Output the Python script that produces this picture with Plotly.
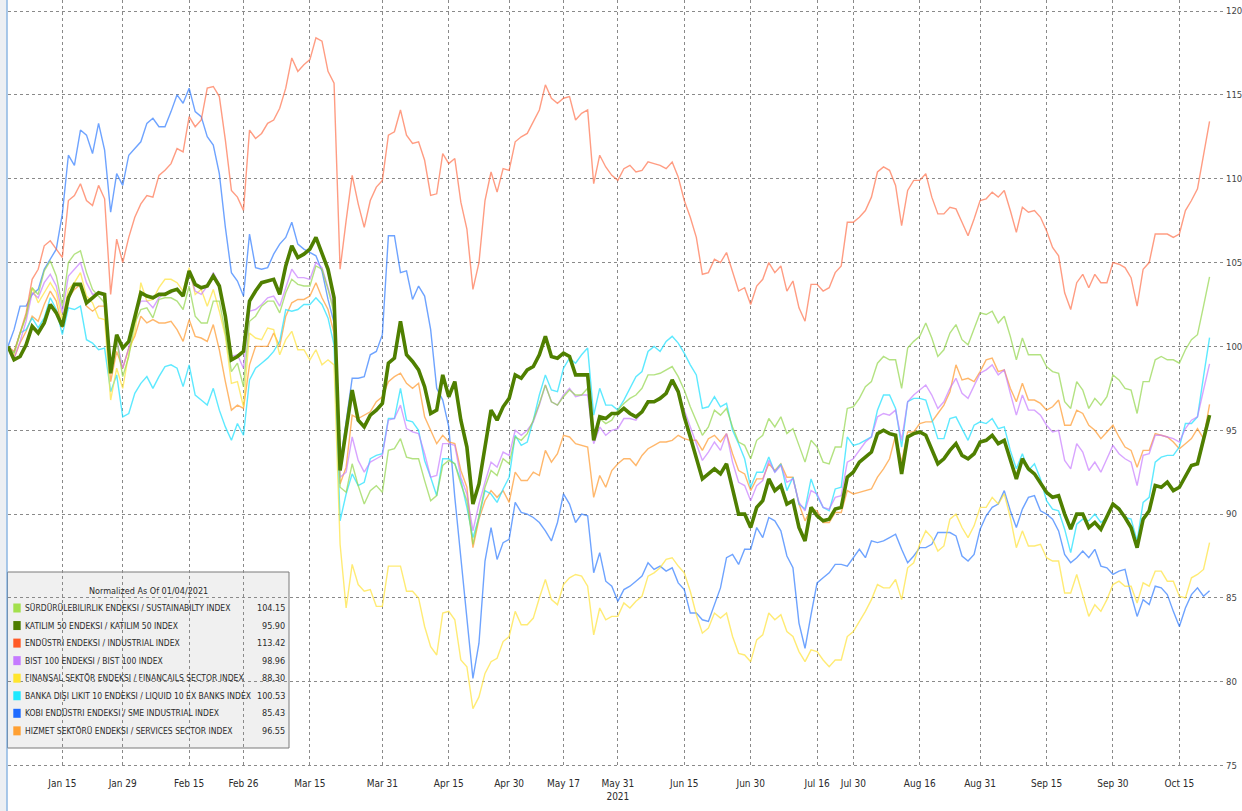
import plotly.graph_objects as go
import pandas as pd

# ---------------- data ----------------
holidays = ["2021-04-23", "2021-05-13", "2021-05-14", "2021-05-19", "2021-07-15",
            "2021-07-20", "2021-07-21", "2021-07-22", "2021-07-23", "2021-08-30"]
dates = [d.strftime("%Y-%m-%d") for d in pd.bdate_range("2021-01-04", "2021-10-22")
         if d.strftime("%Y-%m-%d") not in holidays]

tick_dates = ["2021-01-15", "2021-01-29", "2021-02-15", "2021-02-26", "2021-03-15", "2021-03-31",
              "2021-04-15", "2021-04-30", "2021-05-17", "2021-05-31", "2021-06-15", "2021-06-30",
              "2021-07-16", "2021-07-30", "2021-08-16", "2021-08-31", "2021-09-15", "2021-09-30",
              "2021-10-15"]
tick_labels = ["Jan 15", "Jan 29", "Feb 15", "Feb 26", "Mar 15", "Mar 31", "Apr 15", "Apr 30",
               "May 17", "May 31<br>2021", "Jun 15", "Jun 30", "Jul 16", "Jul 30", "Aug 16",
               "Aug 31", "Sep 15", "Sep 30", "Oct 15"]
y_ticks = [75, 80, 85, 90, 95, 100, 105, 110, 115, 120]

sustainability = [
    100.0, 99.6, 100.8, 101.8, 103.5, 103.1, 104.5, 105.1, 104.2, 102.4,
    105.0, 105.5, 105.7, 104.4, 103.4, 103.0, 102.6, 98.4, 100.4, 98.2,
    99.4, 101.4, 102.2, 102.3, 101.7, 102.8, 102.9, 102.9, 102.7, 102.2,
    103.6, 101.8, 101.4, 101.4, 102.7, 102.7, 100.8, 98.5, 99.0, 97.6,
    101.5, 101.8, 102.4, 102.7, 102.7, 102.0, 103.2, 104.0, 103.7, 103.6,
    103.6, 104.8, 104.6, 103.4, 102.0, 91.6, 91.3, 93.0, 91.7, 90.6,
    91.4, 91.7, 91.3, 93.8, 93.9, 94.5, 93.4, 93.3, 93.3, 92.0,
    90.8, 91.1, 92.9, 93.2, 93.0, 91.8, 90.8, 88.2, 89.8, 91.6,
    92.6, 92.3, 93.3, 93.0, 94.6, 94.4, 94.8, 95.6, 96.6, 97.7,
    96.7, 96.5, 97.0, 97.4, 97.1, 97.1, 97.5, 94.6, 95.7, 95.4,
    95.6, 96.2, 96.6, 96.9, 97.1, 97.5, 98.3, 98.3, 98.4, 98.6,
    98.8, 98.2, 97.4, 96.4, 95.6, 94.7, 95.2, 96.2, 95.9, 96.3,
    95.2, 94.3, 94.1, 93.3, 94.4, 94.7, 95.7, 95.2, 95.8, 94.8,
    95.1, 94.1, 93.1, 94.4, 94.0, 93.1, 93.0, 94.0, 94.0, 96.3,
    96.4, 96.9, 97.6, 97.9, 99.0, 99.4, 99.2, 99.2, 97.5, 99.9,
    100.3, 100.6, 101.4, 100.5, 99.4, 99.8, 100.8, 101.3, 100.4, 100.1,
    101.0, 102.0, 101.9, 102.1, 101.4, 101.8, 100.6, 99.2, 100.5, 99.5,
    99.5, 99.5, 98.8, 98.5, 98.4, 96.7, 96.3, 97.9, 97.4, 96.3,
    96.9, 96.5, 97.0, 98.3, 98.0, 97.5, 97.4, 96.0, 97.9, 97.9,
    99.2, 99.4, 99.2, 99.2, 99.0, 99.8, 100.4, 100.7, 102.4, 104.15]

katilim50 = [
    100.0, 99.2, 99.4, 100.1, 101.2, 100.8, 101.4, 102.5, 102.0, 101.2,
    102.9, 103.7, 103.7, 102.6, 102.9, 103.2, 103.1, 98.4, 100.7, 99.9,
    100.3, 101.8, 103.2, 103.0, 102.9, 103.1, 103.1, 103.3, 103.4, 103.0,
    104.5, 103.7, 103.5, 103.6, 104.2, 103.6, 101.8, 99.2, 99.4, 99.7,
    102.7, 103.3, 103.8, 103.9, 104.0, 103.1, 104.8, 106.0, 105.3, 105.5,
    105.8, 106.5, 105.5, 104.6, 102.9, 92.6, 95.0, 97.4, 95.6, 95.2,
    95.9, 96.2, 96.6, 99.0, 99.3, 101.5, 99.5, 99.1, 98.6, 97.6,
    96.0, 96.2, 98.3, 97.0, 97.9, 95.6, 94.0, 90.6, 91.8, 94.0,
    96.2, 95.6, 96.4, 96.9, 98.3, 98.1, 98.6, 98.8, 99.5, 100.6,
    99.4, 99.3, 99.6, 99.4, 98.3, 98.3, 98.3, 94.4, 95.8, 95.7,
    96.0, 96.0, 96.3, 96.0, 95.8, 96.1, 96.7, 96.7, 96.9, 97.2,
    98.0, 97.3, 95.8, 94.6, 93.4, 92.1, 92.4, 92.7, 92.4, 93.0,
    91.5, 90.0, 90.0, 89.2, 90.4, 90.8, 92.1, 91.4, 91.7, 90.6,
    90.8, 89.2, 88.4, 90.4, 89.9, 89.6, 89.7, 90.3, 90.4, 92.2,
    92.5, 93.1, 93.4, 93.7, 94.8, 95.0, 94.8, 94.7, 92.4, 94.6,
    94.8, 94.9, 94.7, 93.8, 93.0, 93.3, 93.8, 94.2, 93.5, 93.3,
    93.6, 94.3, 94.4, 94.7, 94.2, 94.4, 93.3, 92.1, 93.3, 92.7,
    92.4, 91.8, 91.3, 91.0, 91.1, 90.0, 89.1, 90.0, 90.0, 89.2,
    89.5, 89.1, 89.8, 90.6, 90.3, 89.8, 89.2, 88.0, 89.7, 90.2,
    91.7, 91.6, 91.9, 91.4, 91.6, 92.2, 92.9, 93.0, 94.4, 95.90]

industrial = [
    100.0, 99.7, 100.8, 102.0, 104.0, 104.6, 106.0, 106.3, 105.8, 105.3,
    108.7, 109.0, 109.7, 108.7, 108.4, 109.6, 108.8, 103.1, 106.4, 105.0,
    106.5, 107.7, 108.5, 109.0, 108.9, 110.2, 110.5, 110.9, 111.8, 111.6,
    113.7, 113.1, 113.5, 115.4, 115.5, 114.9, 112.3, 109.3, 108.9, 108.1,
    112.9, 112.4, 112.7, 113.3, 113.5, 114.2, 115.4, 117.2, 116.4, 116.8,
    117.1, 118.4, 118.2, 116.4, 115.7, 104.6, 107.5, 110.2, 108.5, 107.1,
    108.7, 109.5, 109.9, 112.6, 112.8, 114.1, 112.6, 112.1, 112.2, 111.1,
    109.0, 109.1, 111.5, 110.9, 111.2, 108.6, 107.0, 103.4, 105.0, 108.7,
    110.4, 109.2, 110.6, 110.5, 112.2, 112.5, 112.7, 113.4, 114.1, 115.6,
    114.8, 114.5, 114.8, 114.9, 113.5, 113.9, 114.1, 109.7, 111.4, 110.7,
    110.2, 109.9, 110.6, 110.8, 110.4, 110.5, 111.0, 110.9, 110.8, 110.6,
    111.0, 110.1, 108.7, 107.7, 106.5, 104.3, 104.4, 105.2, 105.0, 105.6,
    104.4, 103.3, 103.5, 102.5, 103.6, 104.0, 105.0, 104.4, 104.8, 103.3,
    103.9, 102.3, 101.5, 103.7, 103.7, 103.3, 103.5, 104.4, 104.8, 107.4,
    107.4, 107.7, 108.1, 108.9, 110.4, 110.7, 110.5, 109.6, 107.2, 109.3,
    109.9, 109.9, 110.3, 108.9, 107.9, 107.9, 108.3, 108.2, 107.4, 106.6,
    107.6, 108.7, 108.8, 109.2, 108.9, 109.3, 108.1, 106.8, 108.3, 108.0,
    108.1, 107.7, 106.9, 105.9, 105.4, 103.2, 102.2, 103.8, 104.3, 103.5,
    104.3, 103.8, 103.8, 105.0, 104.9, 104.7, 104.1, 102.4, 104.6, 105.0,
    106.7, 106.7, 106.7, 106.5, 106.7, 108.1, 108.7, 109.4, 111.4, 113.42]

bist100 = [
    100.0, 99.3, 100.3, 101.5, 103.2, 102.9, 103.8, 104.3, 103.6, 102.0,
    104.2, 104.6, 105.0, 103.8, 103.1, 103.2, 103.0, 98.6, 100.4, 98.7,
    99.9, 101.8, 102.7, 102.7, 102.3, 102.9, 103.2, 103.2, 103.4, 103.1,
    104.5, 103.3, 103.1, 103.6, 104.4, 103.7, 101.8, 99.4, 99.5, 98.7,
    102.1, 102.2, 102.5, 102.9, 103.0, 102.4, 103.5, 104.6, 104.1, 104.1,
    104.0, 105.0, 104.7, 103.5, 102.3, 92.2, 92.5, 94.6, 93.2, 92.5,
    93.1, 93.3, 93.5, 95.6, 95.7, 96.5, 95.1, 94.9, 94.8, 93.6,
    92.2, 92.3, 94.2, 94.2, 94.1, 92.2, 91.2, 89.0, 90.6, 91.9,
    93.1, 92.8, 93.7, 93.5, 95.0, 94.7, 95.0, 95.5, 96.5, 97.7,
    96.7, 96.5, 97.1, 97.5, 97.0, 97.1, 97.1, 94.2, 95.2, 94.7,
    95.0, 95.1, 95.7, 95.7, 95.6, 96.1, 96.6, 96.7, 96.9, 97.2,
    97.8, 97.2, 96.2, 95.2, 94.2, 93.2, 93.7, 94.3, 93.8, 94.8,
    93.1, 91.9, 91.7, 90.8, 91.7, 92.0, 93.2, 92.5, 92.9, 91.9,
    92.1, 90.7, 90.2, 91.4, 91.2, 90.4, 90.3, 91.0, 91.1, 93.1,
    93.3, 93.8, 94.3, 94.6, 95.8, 96.0, 95.9, 96.2, 94.4, 96.7,
    97.1, 97.4, 97.7, 97.1, 96.3, 96.7, 97.5, 98.1, 97.2, 96.9,
    97.7, 98.4, 98.6, 98.9, 98.3, 98.6, 97.2, 95.9, 97.1, 96.2,
    96.2, 95.9, 95.3, 94.9, 95.0, 93.2, 92.7, 94.2, 93.7, 92.6,
    93.1, 92.5, 93.3, 94.1, 93.6, 93.3, 93.1, 91.7, 93.5, 93.6,
    94.7, 94.7, 94.6, 94.5, 94.3, 95.1, 95.6, 95.8, 97.4, 98.96]

financial = [
    100.0, 99.5, 100.8, 101.8, 103.5, 102.6, 103.2, 103.8, 103.2, 101.6,
    103.4, 103.8, 104.4, 103.0, 102.6, 101.7, 101.6, 96.8, 98.7, 97.5,
    99.6, 100.8, 103.8, 102.7, 102.8, 103.5, 104.0, 104.0, 103.8, 103.3,
    104.7, 103.1, 103.4, 102.4, 103.4, 102.1, 100.6, 97.8, 97.9, 96.4,
    100.8, 100.5, 100.4, 101.1, 101.0, 99.5, 100.4, 100.9, 99.8, 99.8,
    99.2, 99.8, 98.9, 99.2, 98.9, 88.2, 84.4, 87.0, 85.8, 85.4,
    85.5, 84.5, 84.5, 86.9, 86.9, 86.9, 85.4, 85.4, 85.0, 83.3,
    82.1, 81.6, 84.1, 84.2, 83.7, 81.3, 80.9, 78.4, 79.1, 80.5,
    81.2, 81.4, 82.4, 82.7, 84.2, 83.4, 83.4, 83.8, 85.0, 86.1,
    84.9, 84.6, 85.8, 86.2, 86.4, 86.3, 85.7, 82.8, 84.4, 83.7,
    83.9, 83.9, 84.7, 84.4, 84.8, 85.1, 86.3, 86.5, 86.8, 87.3,
    87.4, 86.9, 86.5, 85.4, 84.0, 82.9, 83.2, 84.1, 83.8, 84.1,
    82.7, 81.7, 81.6, 81.2, 82.5, 82.8, 84.1, 83.7, 84.0, 83.0,
    82.7, 81.8, 81.2, 81.9, 81.8, 81.3, 80.9, 81.3, 81.3, 82.7,
    83.0, 83.6, 84.2, 84.9, 85.8, 85.6, 85.6, 86.1, 84.9, 86.8,
    87.1, 88.2, 89.0, 88.6, 87.8, 88.1, 89.7, 90.0, 89.2, 88.6,
    89.3, 90.4, 90.4, 91.0, 90.6, 91.2, 89.8, 88.0, 89.0, 88.1,
    88.1, 88.2, 87.4, 87.2, 87.2, 85.3, 85.3, 86.4, 85.2, 83.9,
    84.6, 84.2, 84.9, 85.8, 86.0, 85.7, 85.7, 84.7, 85.9, 85.7,
    86.6, 86.6, 86.0, 86.0, 85.1, 85.0, 86.2, 86.4, 86.7, 88.30]

liquid10 = [
    100.0, 99.6, 100.8, 101.0, 101.7, 101.1, 101.7, 102.9, 102.2, 100.7,
    102.3, 102.2, 102.4, 100.4, 100.2, 99.8, 99.9, 97.3, 98.3, 95.8,
    96.0, 97.2, 97.8, 98.2, 97.5, 98.2, 98.8, 98.9, 98.7, 97.6,
    98.9, 97.1, 96.8, 96.5, 97.5, 96.2, 95.2, 94.4, 95.4, 94.7,
    98.0, 98.7, 99.0, 99.3, 99.7, 100.3, 102.2, 102.1, 102.2, 102.5,
    102.5, 102.9, 102.5, 101.7, 100.1, 89.6, 91.2, 92.4, 91.7, 91.9,
    93.3, 93.5, 93.6, 95.7, 95.7, 97.5, 95.6, 95.5, 95.0, 93.2,
    92.2, 91.1, 93.3, 93.3, 93.0, 92.0, 90.4, 88.6, 89.8, 91.4,
    91.2, 90.7, 91.5, 92.2, 94.7, 94.1, 94.3, 95.6, 97.1, 98.3,
    97.4, 97.3, 98.7, 99.3, 99.0, 99.5, 99.9, 95.9, 97.5, 96.5,
    96.5, 96.2, 96.8, 97.5, 98.2, 98.5, 99.7, 100.0, 99.7, 100.3,
    100.6, 100.2, 99.6, 98.9, 98.3, 96.3, 96.4, 97.0, 96.4, 96.6,
    95.0, 94.2, 93.3, 91.6, 92.5, 92.5, 93.4, 92.5, 93.0, 91.4,
    92.2, 90.6, 90.3, 92.1, 91.1, 90.4, 90.2, 91.5, 91.6, 94.6,
    94.1, 94.2, 94.4, 94.6, 96.2, 97.1, 97.1, 96.3, 94.0, 96.7,
    96.9, 96.9, 96.8, 95.7, 94.5, 94.5, 95.7, 95.8, 95.1, 94.4,
    95.3, 95.5, 95.4, 95.7, 95.1, 95.2, 93.8, 92.7, 93.6, 92.6,
    93.0, 92.1, 90.8, 90.3, 90.2, 89.1, 87.7, 89.4, 89.7, 89.6,
    90.0, 89.5, 89.8, 90.6, 90.4, 89.8, 89.7, 88.4, 90.7, 91.0,
    93.1, 93.4, 93.5, 93.5, 94.0, 95.4, 95.4, 95.8, 98.2, 100.53]

sme_industrial = [
    100.0, 101.0, 102.4, 102.4, 103.1, 103.4, 104.6, 105.2, 105.8, 107.9,
    111.4, 110.8, 112.9, 112.6, 111.5, 113.3, 111.7, 108.0, 110.3, 109.6,
    111.4, 111.8, 112.2, 113.3, 113.6, 113.1, 113.1, 114.0, 115.0, 114.5,
    115.4, 114.0, 113.7, 112.5, 112.0, 110.3, 107.1, 104.4, 103.9, 103.0,
    106.7, 104.7, 104.6, 104.7, 105.5, 106.1, 106.5, 107.4, 106.1, 105.8,
    105.6, 105.4, 104.5, 102.8, 101.4, 93.0, 95.5, 98.1, 98.1, 98.2,
    99.5, 99.7, 100.7, 106.6, 106.6, 104.4, 104.5, 102.8, 103.6, 103.0,
    101.0, 97.5, 96.8, 95.2, 91.0, 87.5, 84.0, 80.2, 82.3, 87.2,
    89.2, 87.3, 88.3, 88.5, 90.7, 90.1, 90.0, 89.8, 89.5, 89.0,
    88.4, 89.5, 91.2, 90.6, 89.5, 90.0, 89.9, 86.5, 87.7, 86.0,
    85.7, 84.8, 85.5, 85.7, 86.0, 86.3, 87.1, 86.7, 86.9, 86.6,
    86.8, 85.9, 85.5, 84.1, 84.1, 83.7, 83.6, 84.6, 85.6, 87.4,
    87.6, 87.0, 87.9, 87.9, 89.2, 88.6, 89.8, 89.6, 89.0, 87.5,
    86.8, 83.5, 82.0, 84.0, 85.9, 86.2, 86.5, 87.0, 87.0, 86.9,
    87.4, 87.9, 87.4, 88.4, 88.3, 88.4, 88.6, 88.8, 87.9, 87.1,
    87.5, 88.0, 88.0, 88.2, 88.9, 88.9, 88.9, 88.7, 87.5, 87.2,
    87.6, 89.1, 89.9, 90.4, 90.6, 91.4, 90.2, 89.2, 90.3, 91.0,
    91.1, 90.2, 90.0, 89.7, 89.0, 87.6, 87.1, 87.4, 87.8, 87.4,
    87.9, 86.9, 86.8, 86.4, 86.6, 86.7, 85.2, 83.9, 84.9, 84.6,
    85.7, 85.6, 85.2, 84.2, 83.3, 84.4, 85.2, 85.6, 85.1, 85.43]

services = [
    100.0, 99.3, 100.2, 100.9, 101.8, 101.5, 102.5, 103.3, 102.7, 101.1,
    102.9, 103.4, 103.7, 102.4, 102.1, 102.4, 102.4, 97.9, 99.7, 98.7,
    99.9, 100.6, 101.8, 101.4, 101.6, 101.4, 101.4, 101.5, 101.0, 100.3,
    101.6, 100.6, 100.5, 100.3, 101.3, 99.8, 97.9, 96.2, 96.5, 96.3,
    98.9, 100.0, 100.0, 100.0, 100.8, 100.0, 101.8, 102.6, 102.8, 102.8,
    103.0, 103.8, 102.9, 102.2, 100.8, 91.8, 92.8, 95.9, 95.7, 95.9,
    96.1, 96.7, 97.0, 97.9, 98.2, 98.4, 97.8, 97.5, 97.8, 95.8,
    95.0, 94.2, 94.7, 94.3, 94.2, 92.6, 91.6, 88.0, 89.7, 90.8,
    91.4, 91.0, 91.4, 90.7, 92.5, 92.0, 92.0, 92.5, 92.3, 93.8,
    93.1, 93.6, 94.7, 94.6, 94.2, 94.1, 94.0, 91.0, 92.3, 91.6,
    92.6, 93.0, 93.3, 93.3, 92.9, 93.5, 93.9, 94.1, 94.3, 94.3,
    94.4, 94.7, 94.5, 94.4, 94.4, 93.8, 94.5, 94.7, 94.3, 94.8,
    93.6, 92.6, 92.4, 91.4, 92.1, 92.1, 93.0, 92.6, 93.0, 92.2,
    92.2, 90.6, 89.6, 90.3, 90.2, 89.5, 89.5, 90.1, 90.1, 91.4,
    91.2, 91.3, 91.4, 91.5, 92.2, 92.7, 93.3, 94.7, 93.1, 94.9,
    94.9, 95.4, 95.5, 95.5, 96.0, 96.5, 97.3, 98.9, 98.0, 98.1,
    97.9, 98.5, 99.2, 99.3, 98.5, 98.6, 97.5, 96.7, 97.8, 96.8,
    96.8, 96.6, 96.2, 96.4, 96.8, 95.3, 95.3, 96.2, 96.0, 95.3,
    95.0, 94.5, 94.9, 95.3, 94.6, 94.0, 93.8, 92.8, 93.8, 93.8,
    94.8, 94.7, 94.6, 94.3, 93.9, 94.2, 94.5, 95.1, 94.5, 96.55]

series_names = [
    "SÜRDÜRÜLEBILIRLIK ENDEKSI / SUSTAINABILTY INDEX",
    "KATILIM 50 ENDEKSI / KATILIM 50 INDEX",
    "ENDÜSTRI ENDEKSI / INDUSTRIAL INDEX",
    "BIST 100 ENDEKSI / BIST 100 INDEX",
    "FINANSAL SEKTÖR ENDEKSI / FINANCAILS SECTOR INDEX",
    "BANKA DIŞI LIKIT 10 ENDEKSI / LIQUID 10 EX BANKS INDEX",
    "KOBI ENDÜSTRI ENDEKSI / SME INDUSTRIAL INDEX",
    "HIZMET SEKTÖRÜ ENDEKSI / SERVICES SECTOR INDEX",
]
series_values = [sustainability, katilim50, industrial, bist100, financial, liquid10,
                 sme_industrial, services]
swatch_colors = ["#a3e04c", "#4d7c00", "#ff5a26", "#c57aff", "#ffe52e", "#1ee8ff",
                 "#1f6bff", "#ffa033"]
line_colors = ["rgba(150,215,80,0.72)", "#4f7f00", "rgba(255,105,65,0.66)",
               "rgba(195,115,255,0.65)", "rgba(255,225,50,0.68)", "rgba(30,225,255,0.72)",
               "rgba(35,115,255,0.66)", "rgba(255,155,50,0.72)"]

# ---------------- figure ----------------
W, H = 1242, 811
ML, MR, MT, MB = 8, 19, 0, 44
PW, PH = W - ML - MR, H - MT - MB
X_RANGE = [0, PW / 6.038]
FONT = "DejaVu Sans Condensed, Liberation Sans Narrow, Arial Narrow, sans-serif"
TXT = "#2b2b2b"


def xp(px):
    return (px - ML) / PW


def yp(py):
    return 1 - (py - MT) / PH


fig = go.Figure()
draw_order = [6, 7, 5, 4, 3, 2, 0, 1]
for k in draw_order:
    fig.add_trace(go.Scatter(
        x=dates, y=series_values[k], mode="lines", name=series_names[k],
        line=dict(color=line_colors[k], width=3.6 if k == 1 else 1.4),
        hoverinfo="skip", showlegend=False))

shapes = []
shapes.append(dict(type="rect", xref="paper", yref="paper", x0=xp(0), x1=xp(6.5),
                   y0=yp(H), y1=yp(0), fillcolor="#eceff3", line=dict(width=0), layer="above"))
shapes.append(dict(type="line", xref="paper", yref="paper", x0=xp(7), x1=xp(7),
                   y0=yp(H), y1=yp(0), line=dict(color="#6fa3da", width=1.2), layer="above"))
shapes.append(dict(type="rect", xref="paper", yref="paper", x0=xp(7.5), x1=xp(289),
                   y0=yp(748), y1=yp(572), fillcolor="#f0f0f0",
                   line=dict(color="#7a7a7a", width=1), layer="below"))

annotations = []
annotations.append(dict(xref="paper", yref="paper", x=xp(148), y=yp(591),
                        text="Normalized As Of 01/04/2021",
                        showarrow=False, xanchor="center", yanchor="middle", align="center",
                        borderpad=0, font=dict(family=FONT, size=9, color=TXT)))
row_y0, row_dy = 608, 17.55
for r in range(len(series_names)):
    ry = row_y0 + r * row_dy
    shapes.append(dict(type="rect", xref="paper", yref="paper", x0=xp(13.3), x1=xp(20.7),
                       y0=yp(ry + 4.5), y1=yp(ry - 4.5), fillcolor=swatch_colors[r],
                       line=dict(width=0), layer="above"))
    annotations.append(dict(xref="paper", yref="paper", x=xp(23.5), y=yp(ry), text=series_names[r],
                            showarrow=False, xanchor="left", yanchor="middle", align="left",
                            borderpad=0, font=dict(family=FONT, size=8.5, color=TXT)))
    annotations.append(dict(xref="paper", yref="paper", x=xp(286), y=yp(ry),
                            text=f"{series_values[r][-1]:.2f}",
                            showarrow=False, xanchor="right", yanchor="middle", align="right",
                            borderpad=0, font=dict(family=FONT, size=9, color=TXT)))

fig.update_layout(
    width=W, height=H,
    margin=dict(l=ML, r=MR, t=MT, b=MB, pad=0),
    paper_bgcolor="white", plot_bgcolor="white",
    showlegend=False,
    shapes=shapes, annotations=annotations,
    font=dict(family=FONT, size=10, color=TXT),
    xaxis=dict(type="category", range=X_RANGE, tickmode="array",
               tickvals=tick_dates, ticktext=tick_labels,
               showgrid=True, gridcolor="#8a8a8a", griddash="dot", gridwidth=1,
               showline=False, zeroline=False, ticks="", automargin=False,
               ticklabelstandoff=9, tickfont=dict(family=FONT, size=10, color=TXT)),
    yaxis=dict(range=[74.92, 120.656], tickmode="array", tickvals=y_ticks,
               side="right", showgrid=True, gridcolor="#8a8a8a", griddash="dot", gridwidth=1,
               showline=False, zeroline=False, ticks="", automargin=False,
               ticklabelstandoff=2, tickfont=dict(family=FONT, size=9.5, color="#444444")),
)

fig.write_html("out.html", config={"displayModeBar": False},
               post_script="document.body.style.margin='0';document.body.style.padding='0';")
